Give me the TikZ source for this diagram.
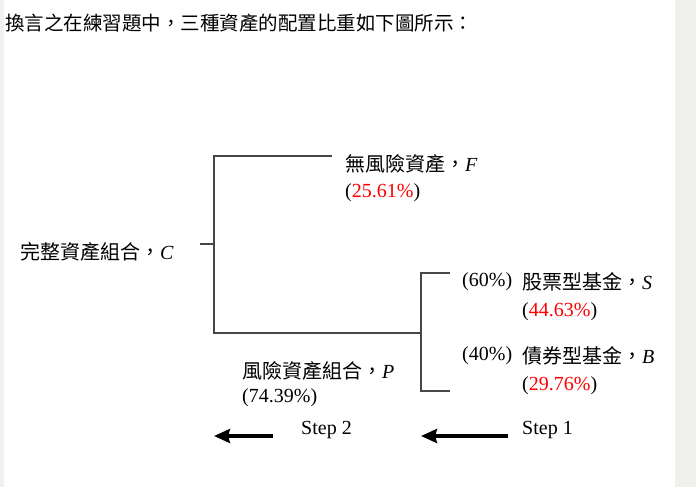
\documentclass[tikz,border=0pt]{standalone}
\usepackage{fontspec}
\setmainfont{Liberation Serif}
\newfontfamily\cjk{Noto Sans CJK TC}
\usetikzlibrary{arrows.meta}
\definecolor{paper}{RGB}{240,240,237}
\definecolor{treeline}{RGB}{70,70,70}
\begin{document}
\begin{tikzpicture}
        [x=1pt,y=-1pt,
        lbl/.style={anchor=west,inner sep=0pt,font=\fontsize{20}{23}\selectfont},
        tree/.style={draw=treeline,line width=1.1pt},
        step arrow/.style={line width=4pt,-{Stealth[length=16pt,width=14pt,inset=2pt]}}]
        \useasboundingbox (0,0) rectangle (696,487);
        %Hintergrund
        \fill [paper] (0,0) rectangle (4,487);
        \fill [paper] (675,0) rectangle (696,487);
        %Titel
        \node [lbl,font=\fontsize{19.5}{23}\selectfont] (title) at (5,23) {\cjk 換言之在練習題中，三種資產的配置比重如下圖所示：};
        %Knoten
        \node [lbl] (C) at (20,252) {{\cjk 完整資產組合，}\textit{C}};
        \node [lbl] (F) at (345,164) {{\cjk 無風險資產，}\textit{F}};
        \node [lbl] (Fp) at (345,193) {(\textcolor{red}{25.61\%})};
        \node [lbl] (P) at (242,371) {{\cjk 風險資產組合，}\textit{P}};
        \node [lbl] (Pp) at (242,398) {(74.39\%)};
        \node [lbl] (Sw) at (462,282) {(60\%)};
        \node [lbl] (S) at (522,282) {{\cjk 股票型基金，}\textit{S}};
        \node [lbl] (Sp) at (522,312) {(\textcolor{red}{44.63\%})};
        \node [lbl] (Bw) at (462,356) {(40\%)};
        \node [lbl] (B) at (522,356) {{\cjk 債券型基金，}\textit{B}};
        \node [lbl] (Bp) at (522,386) {(\textcolor{red}{29.76\%})};
        \node [lbl] (step2) at (301,430) {Step 2};
        \node [lbl] (step1) at (522,430) {Step 1};
        %Verzweigungen
        \coordinate (c0) at (200,244);
        \coordinate (c1) at (214,244);
        \coordinate (f0) at (214,156);
        \coordinate (f1) at (332,156);
        \coordinate (p0) at (214,333);
        \coordinate (p1) at (421,333);
        \coordinate (s0) at (421,273);
        \coordinate (s1) at (450,273);
        \coordinate (b0) at (421,391);
        \coordinate (b1) at (450,391);
        \draw [tree] (c0) -- (c1);
        \draw [tree] (f1) -- (f0) -- (p0) -- (p1);
        \draw [tree] (s1) -- (s0) -- (b0) -- (b1);
        %Pfeile
        \coordinate (a2s) at (273,436);
        \coordinate (a2e) at (214,436);
        \coordinate (a1s) at (508,436);
        \coordinate (a1e) at (421,436);
        \draw [step arrow] (a2s) -- (a2e);
        \draw [step arrow] (a1s) -- (a1e);
\end{tikzpicture}
\end{document}
